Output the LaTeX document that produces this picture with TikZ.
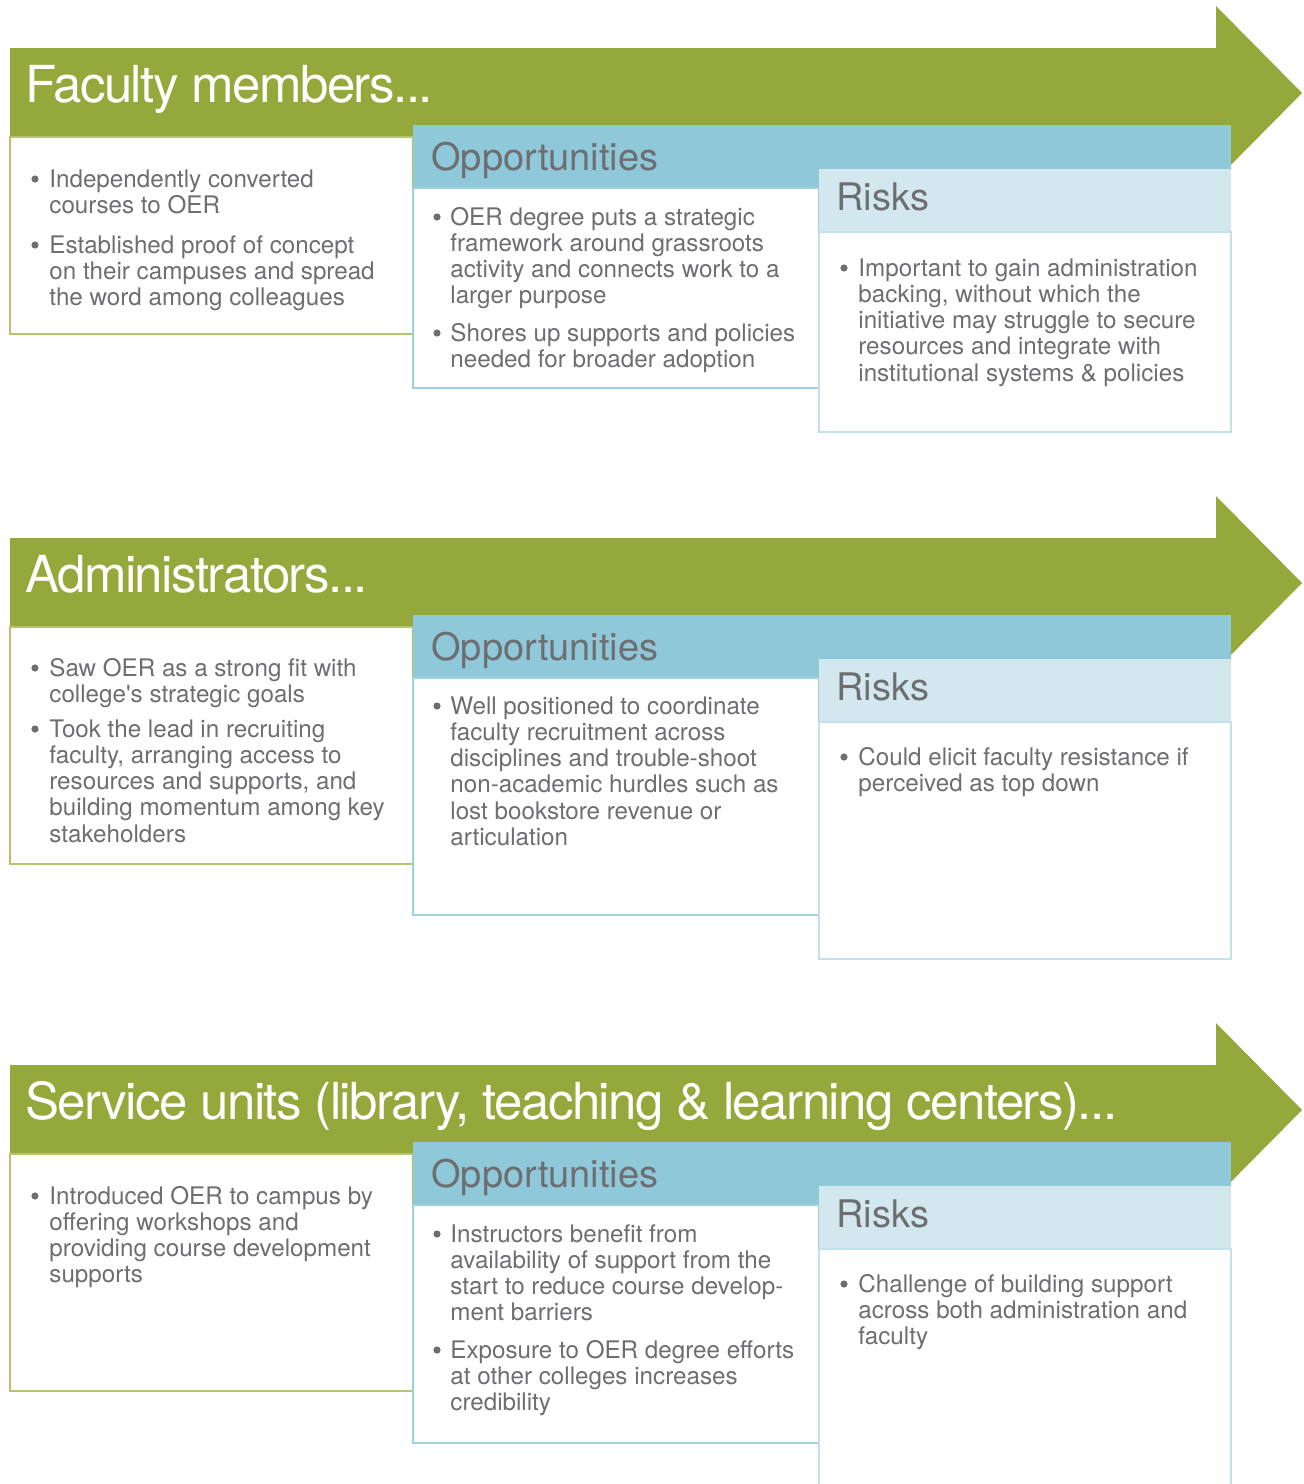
\documentclass[tikz,border=0pt]{standalone}
\usepackage{fontspec}
\setmainfont{TeX Gyre Heros}
\definecolor{oliv}{HTML}{95A83B}
\definecolor{gborder}{HTML}{B5C56C}
\definecolor{bluehead}{HTML}{8FC8D9}
\definecolor{bborder}{HTML}{9FD0DF}
\definecolor{lbluehead}{HTML}{D2E8EE}
\definecolor{lbborder}{HTML}{C2E1EA}
\definecolor{txtgray}{HTML}{6D6E71}
\newcommand\bodyfont{\fontsize{12.1}{13.15}\selectfont}
\newcommand\titlefont{\fontsize{25.5}{30}\selectfont\addfontfeature{LetterSpace=-3}}
\newcommand\headfont{\fontsize{19}{22}\selectfont}
\newcommand\lines[1]{\begin{tabular}[t]{@{}l@{}}#1\end{tabular}}
\newcommand\bul[2]{\fill[txtgray] (#1,#2) circle[radius=1.8pt];}
\newcommand\panelshapes[3]{%
  \fill[oliv] (10,48) -- (1216,48) -- (1216,6) -- (1302,93) -- (1216,180) -- (1216,137) -- (10,137) -- cycle;
  \filldraw[fill=white, draw=gborder, line width=0.7pt] (10,137) rectangle (413,#1);
  \fill[bluehead] (413,125) rectangle (1231,188);
  \filldraw[fill=white, draw=bborder, line width=0.7pt] (413,188) rectangle (819,#2);
  \fill[lbluehead] (819,169) rectangle (1231,232);
  \filldraw[fill=white, draw=lbborder, line width=0.7pt] (819,232) rectangle (1231,#3);
}
\begin{document}
\begin{tikzpicture}[x=0.5pt,y=-0.5pt,
  titletxt/.style={anchor=base west, text=white, font=\titlefont, inner sep=0pt},
  headtxt/.style={anchor=base west, text=txtgray, font=\headfont, inner sep=0pt},
  bodytxt/.style={anchor=base west, text=txtgray, font=\bodyfont, inner sep=0pt}]
\useasboundingbox (0,0) rectangle (1303,1484);

% ---------- Panel 1 ----------
\begin{scope}
  \panelshapes{334}{388}{432}
  \node[titletxt] (t1) at (25,102) {Faculty members...};
  \bul{35}{179}
  \node[bodytxt] (f1a) at (49,187) {\lines{Independently converted\\courses to OER}};
  \bul{35}{245}
  \node[bodytxt] (f1b) at (49,253) {\lines{Established proof of concept\\on their campuses and spread\\the word among colleagues}};
  \node[headtxt] (o1h) at (431,170) {Opportunities};
  \bul{437}{217}
  \node[bodytxt] (o1a) at (450,225) {\lines{OER degree puts a strategic\\framework around grassroots\\activity and connects work to a\\larger purpose}};
  \bul{437}{333}
  \node[bodytxt] (o1b) at (450,341) {\lines{Shores up supports and policies\\needed for broader adoption}};
  \node[headtxt] (r1h) at (836,210) {Risks};
  \bul{844}{268}
  \node[bodytxt] (r1a) at (858,276) {\lines{Important to gain administration\\backing, without which the\\initiative may struggle to secure\\resources and integrate with\\institutional systems \& policies}};
\end{scope}

% ---------- Panel 2 ----------
\begin{scope}[shift={(0,490)}]
  \panelshapes{374}{425}{469}
  \node[titletxt] (t2) at (25,102) {Administrators...};
  \bul{35}{178}
  \node[bodytxt] (f2a) at (49,186) {\lines{Saw OER as a strong fit with\\college\textquotesingle s strategic goals}};
  \bul{35}{239}
  \node[bodytxt] (f2b) at (49,247) {\lines{Took the lead in recruiting\\faculty, arranging access to\\resources and supports, and\\building momentum among key\\stakeholders}};
  \node[headtxt] (o2h) at (431,170) {Opportunities};
  \bul{437}{216}
  \node[bodytxt] (o2a) at (450,224) {\lines{Well positioned to coordinate\\faculty recruitment across\\disciplines and trouble-shoot\\non-academic hurdles such as\\lost bookstore revenue or\\articulation}};
  \node[headtxt] (r2h) at (836,210) {Risks};
  \bul{844}{267}
  \node[bodytxt] (r2a) at (858,275) {\lines{Could elicit faculty resistance if\\perceived as top down}};
\end{scope}

% ---------- Panel 3 ----------
\begin{scope}[shift={(0,1017)}]
  \panelshapes{374}{426}{480}
  \node[titletxt] (t3) at (25,102) {Service units (library, teaching \& learning centers)...};
  \bul{35}{179}
  \node[bodytxt] (f3a) at (49,187) {\lines{Introduced OER to campus by\\offering workshops and\\providing course development\\supports}};
  \node[headtxt] (o3h) at (431,170) {Opportunities};
  \bul{437}{217}
  \node[bodytxt] (o3a) at (450,225) {\lines{Instructors benefit from\\availability of support from the\\start to reduce course develop-\\ment barriers}};
  \bul{437}{333}
  \node[bodytxt] (o3b) at (450,341) {\lines{Exposure to OER degree efforts\\at other colleges increases\\credibility}};
  \node[headtxt] (r3h) at (836,210) {Risks};
  \bul{844}{267}
  \node[bodytxt] (r3a) at (858,275) {\lines{Challenge of building support\\across both administration and\\faculty}};
\end{scope}
\end{tikzpicture}
\end{document}
